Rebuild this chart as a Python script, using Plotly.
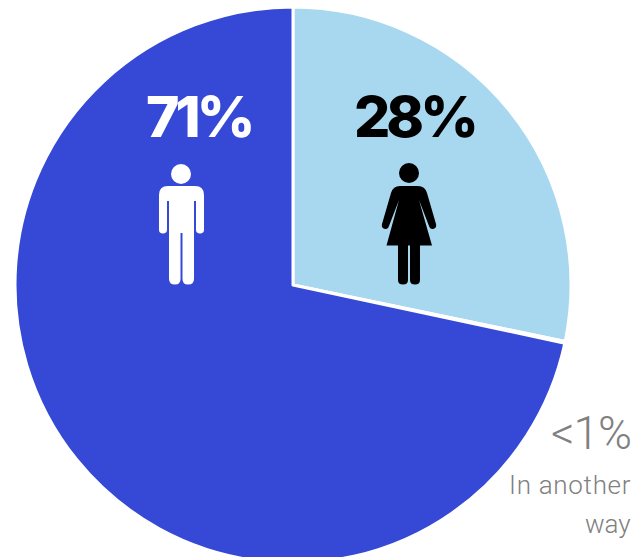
import plotly.graph_objects as go

WIDTH, HEIGHT = 631, 563

# Share of respondents by gender
categories = ["Women", "In another way", "Men"]
values = [28, 0.1, 71]
slice_colors = ["#a8d8f0", "#ffffff", "#3549d6"]
labels = {"Men": "71%", "Women": "28%", "In another way": "<1%"}
note_lines = ["In another", "way"]


def px(x):
    return x / WIDTH


def py(y):
    return 1 - y / HEIGHT


def tracked(text, spacing):
    return f'<span style="letter-spacing:{spacing}px">{text}</span>'


def to_paper(path):
    # Path tokens are written in page pixels and converted to paper fractions
    out = []
    for cmd, *pts in path:
        coords = " ".join(f"{px(pts[i]):.5f},{py(pts[i + 1]):.5f}" for i in range(0, len(pts), 2))
        out.append(f"{cmd} {coords}".strip())
    return " ".join(out)


def icon(path, head, color):
    cx, cy, r = head
    return [
        dict(type="circle", xref="paper", yref="paper", x0=px(cx - r), x1=px(cx + r),
             y0=py(cy + r), y1=py(cy - r), fillcolor=color, line_width=0, layer="above"),
        dict(type="path", xref="paper", yref="paper", path=to_paper(path),
             fillcolor=color, line_width=0, layer="above"),
    ]


man_path = [
    ("M", 168, 186), ("L", 195, 186), ("Q", 204, 186, 204, 195), ("L", 204, 230),
    ("Q", 204, 233.5, 200, 233.5), ("Q", 196, 233.5, 196, 230), ("L", 196, 201), ("L", 194, 201),
    ("L", 194, 279), ("Q", 194, 284.5, 188, 284.5), ("Q", 182.5, 284.5, 182.5, 279), ("L", 182.5, 233),
    ("L", 180.5, 233), ("L", 180.5, 279), ("Q", 180.5, 284.5, 175, 284.5), ("Q", 169, 284.5, 169, 279),
    ("L", 169, 201), ("L", 167, 201), ("L", 167, 230), ("Q", 167, 233.5, 163, 233.5),
    ("Q", 159, 233.5, 159, 230), ("L", 159, 195), ("Q", 159, 186, 168, 186), ("Z",),
]

woman_path = [
    ("M", 400, 186), ("L", 418, 186), ("Q", 425, 186, 427, 193), ("L", 436, 224),
    ("Q", 437, 228, 433, 229), ("Q", 430, 229.5, 429, 226), ("L", 419, 200), ("L", 432, 245.5),
    ("L", 420, 245.5), ("L", 420, 280), ("Q", 420, 284.5, 415, 284.5), ("Q", 410, 284.5, 410, 280),
    ("L", 410, 245.5), ("L", 408, 245.5), ("L", 408, 280), ("Q", 408, 284.5, 403, 284.5),
    ("Q", 398, 284.5, 398, 280), ("L", 398, 245.5), ("L", 386.5, 245.5), ("L", 399, 200),
    ("L", 389, 226), ("Q", 388, 229.5, 385, 229), ("Q", 381, 228, 382, 224), ("L", 391, 193),
    ("Q", 393, 186, 400, 186), ("Z",),
]

fig = go.Figure(
    go.Pie(
        labels=categories,
        values=values,
        sort=False,
        direction="clockwise",
        rotation=0,
        marker=dict(colors=slice_colors, line=dict(color="#ffffff", width=3)),
        textinfo="none",
        hoverinfo="label+percent",
        showlegend=False,
        domain=dict(x=[0, 2 * 293 / WIDTH], y=[0, 1 - 7 / HEIGHT]),
    )
)

big_font = "Inter, Roboto, sans-serif"
note_font = "Roboto, sans-serif"
annotations = [
    dict(x=px(198), y=py(116), text=tracked(labels["Men"], -4), xanchor="center", yanchor="middle", showarrow=False,
         font=dict(family=big_font, size=57, color="#ffffff", weight=800)),
    dict(x=px(414.5), y=py(116), text=tracked(labels["Women"], -4), xanchor="center", yanchor="middle", showarrow=False,
         font=dict(family=big_font, size=57, color="#000000", weight=800)),
    dict(x=px(633), y=py(433), text=tracked(labels["In another way"], -1), xanchor="right", yanchor="middle", showarrow=False,
         font=dict(family=note_font, size=46, color="#808080", weight=300)),
    dict(x=px(633), y=py(485), text=tracked(note_lines[0], 0.7), xanchor="right", yanchor="middle", showarrow=False,
         font=dict(family=note_font, size=26, color="#808080", weight=300)),
    dict(x=px(633), y=py(524), text=note_lines[1], xanchor="right", yanchor="middle", showarrow=False,
         font=dict(family=note_font, size=26, color="#808080", weight=300)),
]

fig.update_layout(
    width=WIDTH,
    height=HEIGHT,
    margin=dict(l=0, r=0, t=0, b=0),
    paper_bgcolor="#ffffff",
    annotations=annotations,
    shapes=icon(man_path, (181, 174, 10), "#ffffff") + icon(woman_path, (409, 173, 10), "#000000"),
)

fig.write_html(
    "out.html",
    config={"displayModeBar": False},
    post_script="document.documentElement.style.overflow='hidden';document.body.style.overflow='hidden';",
)
